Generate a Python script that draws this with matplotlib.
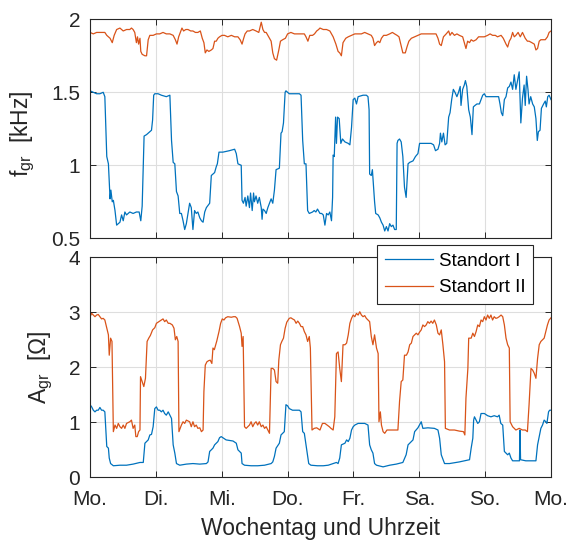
import matplotlib
matplotlib.use('Agg')
import matplotlib.pyplot as plt

plt.rcParams['font.family'] = ['Liberation Sans', 'DejaVu Sans']
plt.rcParams['mathtext.fontset'] = 'custom'
plt.rcParams['mathtext.rm'] = 'Liberation Sans'
plt.rcParams['mathtext.it'] = 'Liberation Sans:italic'

# ---------------- data (time in hours since Monday 0:00) ----------------
day_labels = ['Mo.', 'Di.', 'Mi.', 'Do.', 'Fr.', 'Sa.', 'So.', 'Mo.']
series_names = ['Standort I', 'Standort II']

f1_t = [0.0, 1.2, 2.4, 3.6, 4.8, 5.4, 6.1, 6.7, 7.3, 7.6, 8.1, 8.5, 9.1, 9.7, 10.9, 11.5, 12.1, 12.7,
        13.3, 14.5, 15.7, 16.9, 17.9, 18.5, 19.0, 19.7, 20.6, 21.8, 22.4, 22.8, 23.2, 23.6, 24.8, 26.0,
        27.8, 29.1, 29.7, 30.3, 30.9, 31.5, 32.1, 32.7, 33.3, 33.9, 34.5, 35.1, 35.7, 36.3, 36.9, 37.5,
        38.1, 38.7, 39.3, 40.0, 40.6, 41.2, 41.8, 42.4, 43.6, 44.2, 44.8, 45.4, 46.0, 46.4, 47.0, 48.4,
        50.8, 52.7, 53.3, 53.9, 55.1, 55.4, 55.9, 56.5, 56.9, 57.5, 58.1, 58.5, 59.1, 59.6, 59.9, 60.5,
        61.1, 61.7, 62.4, 62.7, 63.0, 63.6, 64.2, 64.8, 65.4, 66.0, 66.6, 67.2, 67.8, 69.0, 69.6, 70.0,
        70.5, 71.1, 71.4, 72.6, 74.5, 76.3, 76.9, 77.5, 78.1, 78.7, 79.3, 79.9, 81.1, 81.7, 82.3, 82.9,
        83.8, 84.4, 85.0, 85.6, 86.2, 86.8, 87.4, 88.0, 88.4, 88.6, 89.0, 89.5, 89.8, 90.2, 90.8, 91.4,
        92.0, 92.9, 94.1, 94.7, 95.3, 95.9, 96.5, 97.1, 97.7, 99.5, 100.7, 101.3, 101.7, 101.9, 102.5,
        102.9, 103.4, 103.7, 104.1, 105.0, 105.6, 106.2, 106.8, 107.4, 108.0, 108.6, 109.2, 109.8,
        110.4, 111.0, 111.6, 111.9, 112.2, 112.8, 113.4, 114.0, 114.6, 115.2, 115.9, 116.5, 117.7,
        118.6, 119.5, 120.1, 121.3, 122.5, 124.3, 125.2, 125.9, 126.8, 127.4, 127.7, 128.2, 128.8,
        129.4, 130.0, 130.7, 131.2, 131.8, 132.4, 133.0, 133.7, 134.3, 134.9, 135.2, 135.8, 136.4,
        136.8, 137.3, 138.0, 138.6, 139.2, 139.7, 140.3, 141.0, 141.9, 142.5, 143.1, 143.7, 144.3,
        145.5, 147.9, 148.9, 149.4, 149.9, 150.4, 151.0, 151.6, 152.2, 152.8, 153.4, 154.0, 154.6,
        155.2, 155.8, 156.4, 157.0, 157.6, 158.2, 158.6, 159.1, 159.6, 160.0, 160.6, 161.3, 161.9,
        162.5, 163.0, 163.4, 164.0, 164.5, 165.3, 165.9, 166.3, 166.8, 167.3, 168.0]
f1_v = [1.51, 1.50, 1.49, 1.49, 1.50, 1.47, 1.06, 1.01, 0.77, 0.83, 0.75, 0.76, 0.69, 0.59, 0.61, 0.66, 0.62, 0.68,
        0.66, 0.68, 0.67, 0.68, 0.68, 0.62, 0.72, 1.20, 1.21, 1.23, 1.24, 1.31, 1.48, 1.49, 1.49, 1.48,
        1.47, 1.48, 1.17, 1.02, 1.01, 0.82, 0.79, 0.67, 0.67, 0.62, 0.56, 0.60, 0.67, 0.74, 0.71, 0.56,
        0.69, 0.67, 0.68, 0.64, 0.62, 0.61, 0.68, 0.71, 0.74, 0.93, 0.94, 0.95, 0.99, 1.01, 1.09, 1.09,
        1.10, 1.11, 1.08, 1.01, 1.00, 0.76, 0.74, 0.78, 0.72, 0.79, 0.71, 0.81, 0.69, 0.81, 0.75, 0.79,
        0.74, 0.78, 0.71, 0.63, 0.70, 0.69, 0.67, 0.71, 0.74, 0.77, 0.74, 0.83, 0.97, 0.98, 1.22, 1.23,
        1.29, 1.50, 1.51, 1.49, 1.49, 1.49, 1.48, 1.17, 1.01, 1.01, 0.69, 0.67, 0.68, 0.69, 0.68, 0.70,
        0.67, 0.67, 0.66, 0.59, 0.67, 0.66, 0.68, 0.62, 0.78, 1.07, 1.06, 1.33, 1.15, 1.33, 1.32, 1.15,
        1.18, 1.16, 1.15, 1.14, 1.26, 1.45, 1.46, 1.42, 1.47, 1.48, 1.48, 1.47, 1.38, 0.94, 0.93,
        0.97, 0.83, 0.75, 0.67, 0.66, 0.64, 0.61, 0.59, 0.55, 0.58, 0.55, 0.60, 0.58,
        0.59, 0.56, 0.56, 1.15, 1.17, 1.18, 1.16, 1.06, 0.85, 0.78, 1.01, 1.02, 1.03,
        1.06, 1.08, 1.15, 1.15, 1.15, 1.15, 1.14, 1.10, 1.11, 1.15, 1.22, 1.16, 1.22,
        1.14, 1.15, 1.33, 1.36, 1.45, 1.52, 1.50, 1.47, 1.50, 1.54, 1.41, 1.52, 1.55,
        1.58, 1.54, 1.38, 1.33, 1.21, 1.40, 1.41, 1.42, 1.42, 1.45, 1.48, 1.49, 1.47,
        1.47, 1.47, 1.47, 1.42, 1.36, 1.34, 1.45, 1.47, 1.53, 1.54, 1.57, 1.52, 1.62,
        1.52, 1.58, 1.64, 1.29, 1.46, 1.55, 1.41, 1.61, 1.52, 1.42, 1.47, 1.42, 1.40,
        1.32, 1.17, 1.23, 1.24, 1.39, 1.42, 1.44, 1.40, 1.47, 1.48, 1.45]

f2_t = [0.0, 1.2, 2.4, 3.6, 5.4, 6.1, 7.3, 8.1, 8.8, 9.7, 10.9, 12.1, 13.3, 14.5, 15.1, 15.7, 16.3, 16.9,
        17.3, 17.7, 18.2, 18.5, 19.0, 20.0, 20.6, 21.2, 21.8, 23.0, 24.2, 25.4, 26.6, 27.8, 29.1, 30.3,
        31.1, 31.7, 32.3, 33.1, 33.5, 34.1, 34.9, 35.7, 36.7, 37.5, 38.4, 39.3, 40.2, 40.9, 41.5, 42.0,
        42.6, 43.3, 44.2, 44.8, 45.4, 46.0, 46.6, 47.2, 48.1, 49.0, 50.2, 51.5, 52.7, 53.9, 54.7, 55.4,
        56.0, 56.5, 57.3, 58.1, 59.3, 60.5, 61.5, 62.4, 63.0, 63.6, 64.2, 65.1, 66.0, 66.6, 67.2, 68.0,
        68.8, 69.4, 70.2, 71.2, 72.0, 73.2, 74.5, 75.7, 76.9, 78.1, 78.7, 79.4, 80.1, 81.1, 81.8, 82.6,
        83.3, 83.8, 85.0, 86.2, 87.4, 88.6, 89.6, 90.4, 91.0, 91.6, 92.2, 93.2, 94.1, 95.3, 96.5, 97.7,
        98.9, 100.1, 101.3, 102.5, 103.1, 103.7, 104.4, 105.0, 105.6, 106.2, 107.0, 108.0, 109.2,
        110.2, 111.0, 111.9, 112.6, 113.1, 114.0, 114.9, 115.5, 116.2, 117.1, 118.3, 119.5, 120.7,
        122.5, 124.3, 126.1, 126.8, 127.4, 128.0, 128.8, 129.8, 130.7, 131.2, 131.9, 132.8, 133.7,
        134.6, 135.8, 136.4, 137.0, 137.6, 138.3, 138.9, 139.7, 140.7, 141.6, 142.5, 143.7, 144.9,
        145.8, 146.7, 147.7, 148.5, 149.8, 150.6, 151.6, 152.2, 152.8, 153.4, 154.0, 154.6, 155.2,
        156.0, 156.8, 157.6, 158.6, 159.4, 160.0, 161.0, 161.9, 162.5, 163.1, 163.7, 164.3, 164.9,
        165.9, 166.7, 167.3, 168.0]
f2_v = [1.91, 1.90, 1.91, 1.91, 1.91, 1.89, 1.87, 1.84, 1.89, 1.93, 1.94, 1.92, 1.93, 1.93, 1.94, 1.93, 1.91, 1.84,
        1.88, 1.83, 1.87, 1.78, 1.76, 1.75, 1.75, 1.86, 1.89, 1.89, 1.90, 1.90, 1.91, 1.90, 1.90, 1.89,
        1.86, 1.83, 1.88, 1.92, 1.94, 1.92, 1.93, 1.93, 1.92, 1.92, 1.91, 1.91, 1.92, 1.87, 1.84, 1.77,
        1.79, 1.78, 1.79, 1.80, 1.85, 1.85, 1.87, 1.88, 1.89, 1.89, 1.88, 1.89, 1.88, 1.88, 1.86, 1.83,
        1.87, 1.90, 1.92, 1.92, 1.93, 1.92, 1.91, 1.98, 1.93, 1.91, 1.91, 1.88, 1.85, 1.77, 1.73, 1.72,
        1.79, 1.85, 1.86, 1.87, 1.90, 1.91, 1.90, 1.90, 1.90, 1.90, 1.88, 1.85, 1.89, 1.89, 1.90, 1.92,
        1.93, 1.94, 1.93, 1.93, 1.92, 1.88, 1.83, 1.78, 1.77, 1.75, 1.84, 1.87, 1.88, 1.89, 1.90, 1.90,
        1.90, 1.91, 1.90, 1.89, 1.87, 1.82, 1.84, 1.85, 1.84, 1.87, 1.89, 1.89, 1.90,
        1.91, 1.90, 1.89, 1.88, 1.84, 1.77, 1.77, 1.81, 1.85, 1.87, 1.88, 1.89, 1.90,
        1.90, 1.90, 1.90, 1.87, 1.83, 1.82, 1.88, 1.90, 1.92, 1.89, 1.91, 1.89, 1.90,
        1.89, 1.88, 1.84, 1.80, 1.85, 1.84, 1.86, 1.85, 1.86, 1.88, 1.88, 1.88, 1.89,
        1.90, 1.89, 1.89, 1.88, 1.89, 1.87, 1.83, 1.81, 1.85, 1.87, 1.91, 1.88, 1.89,
        1.91, 1.88, 1.91, 1.87, 1.85, 1.85, 1.84, 1.83, 1.79, 1.80, 1.85, 1.86, 1.86,
        1.86, 1.88, 1.91, 1.92]

a1_t = [0.0, 0.6, 1.2, 1.8, 2.4, 3.0, 3.6, 4.2, 4.8, 5.4, 6.1, 6.7, 7.0, 7.5, 8.5, 10.9, 13.3, 15.7, 18.2,
        19.4, 20.0, 20.6, 21.2, 21.8, 22.4, 23.0, 23.6, 24.2, 24.8, 25.4, 26.0, 26.6, 27.2, 27.8, 28.5,
        29.1, 29.7, 30.3, 30.9, 31.5, 32.7, 35.1, 37.5, 40.0, 42.4, 43.0, 43.6, 44.2, 44.8, 45.4, 46.0,
        46.6, 47.2, 47.8, 48.4, 49.6, 52.1, 53.3, 53.9, 55.1, 55.4, 56.3, 58.7, 61.1, 63.6, 66.0, 66.6,
        67.2, 67.8, 69.0, 69.6, 70.8, 71.4, 72.0, 72.6, 73.8, 75.1, 76.3, 76.9, 77.5, 78.1, 78.7, 79.3,
        79.7, 80.5, 82.9, 85.0, 86.8, 88.6, 89.8, 90.4, 91.0, 91.6, 92.9, 93.5, 94.1, 94.7, 95.3, 95.9,
        96.5, 97.7, 100.1, 101.3, 101.9, 102.5, 103.1, 103.7, 104.4, 106.8, 109.2, 111.6, 114.0, 115.2,
        115.9, 117.1, 117.7, 118.3, 119.5, 120.7, 121.3, 123.1, 125.5, 126.8, 127.4, 128.0, 129.2,
        131.0, 134.6, 138.3, 138.9, 139.5, 139.8, 140.1, 140.7, 141.3, 141.9, 142.5, 143.7, 144.9,
        146.1, 147.3, 148.5, 149.1, 149.7, 150.4, 151.0, 152.2, 152.8, 153.4, 154.0, 156.2, 156.5,
        156.7, 156.9, 158.8, 162.5, 163.1, 163.7, 164.3, 164.9, 165.5, 166.1, 166.5, 167.1, 167.5, 168.0]
a1_v = [1.32, 1.28, 1.22, 1.19, 1.22, 1.22, 1.27, 1.22, 1.22, 1.19, 0.56, 0.53, 0.35, 0.25, 0.21, 0.22, 0.22, 0.24, 0.27,
        0.27, 0.62, 0.65, 0.68, 0.77, 0.78, 0.92, 1.25, 1.28, 1.22, 1.22, 1.19, 1.22, 1.16, 1.13, 1.19,
        1.13, 1.07, 0.59, 0.44, 0.25, 0.22, 0.24, 0.25, 0.24, 0.25, 0.28, 0.47, 0.50, 0.53, 0.59, 0.62,
        0.65, 0.72, 0.74, 0.72, 0.68, 0.66, 0.62, 0.50, 0.44, 0.25, 0.22, 0.21, 0.21, 0.22, 0.25, 0.28,
        0.38, 0.53, 0.62, 0.77, 0.83, 1.32, 1.30, 1.25, 1.22, 1.22, 1.22, 1.19, 0.83, 0.80, 0.59, 0.38,
        0.25, 0.22, 0.21, 0.21, 0.22, 0.25, 0.27, 0.25, 0.35, 0.59, 0.62, 0.68, 0.65, 0.71, 0.86, 0.92,
        0.95, 0.98, 0.98, 0.95, 0.59, 0.50, 0.44, 0.25, 0.22, 0.19, 0.22, 0.24, 0.27, 0.41,
        0.59, 0.65, 0.68, 0.83, 0.90, 1.01, 0.89, 0.90, 0.89, 0.86, 0.71, 0.41, 0.25,
        0.25, 0.28, 0.32, 0.53, 0.71, 1.04, 1.10, 1.04, 0.98, 1.01, 1.16, 1.16, 1.12,
        1.10, 1.12, 1.10, 1.13, 0.98, 0.95, 0.47, 0.41, 0.44, 0.35, 0.30, 0.30, 0.30,
        0.86, 0.32, 0.30, 0.30, 0.59, 0.74, 0.89, 0.95, 1.04, 1.01, 0.98, 1.19, 1.22, 1.22]

a2_t = [0.0, 0.6, 1.2, 1.8, 2.4, 3.0, 3.6, 4.2, 4.8, 5.4, 6.1, 6.7, 7.0, 7.5, 8.0, 8.5, 9.1, 9.7, 10.3,
        10.9, 11.5, 12.1, 12.7, 13.3, 14.5, 15.1, 15.7, 16.3, 16.7, 17.2, 17.7, 18.2, 18.4, 19.0, 19.6,
        20.2, 20.8, 21.4, 22.0, 22.8, 23.6, 24.2, 25.4, 26.6, 27.2, 27.8, 28.5, 29.1, 30.0, 30.6, 31.1,
        31.6, 32.1, 32.4, 33.3, 33.9, 34.5, 35.1, 36.3, 36.9, 37.5, 38.1, 38.7, 39.3, 40.0, 40.6, 41.2,
        41.5, 42.0, 42.6, 43.2, 43.8, 44.4, 44.8, 45.3, 45.8, 46.2, 47.0, 47.6, 48.2, 48.8, 49.4, 50.2,
        51.5, 52.3, 53.0, 53.6, 54.5, 55.1, 55.4, 55.8, 56.3, 56.9, 57.5, 58.1, 58.7, 59.3, 59.9, 60.5,
        61.1, 61.7, 62.4, 63.0, 63.6, 64.2, 64.8, 65.4, 66.0, 66.6, 67.2, 67.8, 68.4, 68.8, 69.4, 69.9,
        70.5, 71.1, 71.7, 72.6, 73.2, 73.8, 74.5, 75.1, 75.7, 76.3, 76.9, 77.5, 78.1, 78.7, 79.3, 79.9,
        80.3, 80.9, 81.7, 82.6, 83.8, 84.7, 85.6, 86.4, 87.2, 87.8, 88.6, 89.2, 89.8, 90.4, 91.0, 91.6,
        92.2, 92.9, 93.5, 94.1, 94.7, 95.3, 95.9, 96.5, 97.1, 97.7, 98.3, 98.9, 99.5, 100.1, 100.7,
        101.3, 101.9, 102.5, 103.1, 103.7, 104.4, 105.0, 105.3, 105.8, 106.2, 106.8, 107.4, 108.2,
        109.8, 111.4, 112.2, 112.8, 113.4, 114.0, 114.6, 115.3, 115.9, 116.5, 117.1, 117.7, 118.3,
        118.9, 119.5, 120.1, 120.7, 121.3, 121.9, 122.5, 123.1, 123.7, 124.3, 124.9, 125.5, 126.2,
        126.8, 127.4, 128.0, 128.6, 129.2, 129.5, 131.0, 132.8, 134.6, 136.1, 136.6, 137.0, 137.7,
        138.0, 138.9, 139.5, 140.1, 140.7, 141.3, 141.9, 142.5, 143.1, 143.7, 144.3, 144.9, 145.5,
        146.1, 146.7, 147.3, 147.9, 148.5, 149.1, 149.8, 150.4, 151.0, 151.6, 152.2, 152.8, 153.1,
        154.0, 154.6, 155.2, 156.4, 157.6, 158.6, 159.4, 160.0, 160.7, 161.3, 161.9, 162.5, 163.1,
        163.7, 164.3, 164.9, 165.5, 166.1, 166.7, 167.3, 168.0]
a2_v = [2.92, 2.98, 2.95, 2.92, 2.95, 2.96, 2.92, 2.88, 2.89, 2.86, 2.71, 2.59, 2.22, 2.53, 2.47, 0.83, 0.95, 0.89, 0.98,
        0.92, 0.89, 0.95, 0.89, 0.98, 1.01, 1.04, 0.89, 0.95, 0.74, 0.74, 0.83, 0.86, 1.83, 1.74, 1.65,
        1.80, 2.47, 2.53, 2.58, 2.68, 2.72, 2.80, 2.84, 2.88, 2.83, 2.86, 2.80, 2.80, 2.77, 2.71, 2.50,
        2.56, 2.47, 0.83, 0.95, 1.01, 0.98, 1.04, 1.01, 0.92, 1.01, 0.92, 0.95, 0.89, 0.90, 0.83, 0.86,
        1.56, 2.04, 2.10, 2.12, 2.13, 2.07, 2.35, 2.32, 2.41, 2.48, 2.65, 2.80, 2.88, 2.86, 2.90, 2.92,
        2.91, 2.92, 2.92, 2.89, 2.74, 2.62, 2.38, 2.56, 0.92, 0.89, 0.92, 0.95, 1.01, 0.92, 0.98, 1.01,
        0.95, 1.01, 0.92, 0.95, 0.89, 0.92, 0.86, 0.80, 1.98, 1.98, 1.95, 1.74, 1.71, 2.13, 2.41, 2.47,
        2.53, 2.71, 2.82, 2.89, 2.90, 2.88, 2.86, 2.80, 2.84, 2.80, 2.74, 2.74, 2.65, 2.59, 2.47, 2.56,
        2.35, 0.86, 0.89, 0.90, 0.86, 0.98, 0.98, 0.95, 0.92, 0.89, 0.86, 1.10, 2.25, 2.28, 1.98, 1.74,
        2.41, 2.41, 2.44, 2.59, 2.80, 2.89, 2.95, 2.92, 2.98, 2.95, 3.01, 2.95, 2.92, 2.94, 2.89,
        2.86, 2.83, 2.56, 2.41, 2.59, 2.35, 2.25, 1.01, 1.19, 0.95, 0.83, 0.80, 0.86,
        0.86, 0.86, 0.86, 1.38, 1.74, 1.77, 2.22, 2.22, 2.28, 2.41, 2.44, 2.56, 2.59,
        2.62, 2.59, 2.64, 2.68, 2.77, 2.74, 2.77, 2.83, 2.80, 2.84, 2.80, 2.86, 2.77,
        2.62, 2.59, 2.68, 2.41, 2.10, 0.89, 0.86, 0.86, 0.84, 0.83, 0.77, 1.44, 1.98,
        2.53, 2.53, 2.62, 2.56, 2.65, 2.77, 2.74, 2.86, 2.83, 2.92, 2.86, 2.95, 2.89,
        2.95, 2.86, 2.92, 2.89, 2.90, 2.92, 2.95, 2.92, 2.77, 2.53, 2.41, 2.35, 1.01,
        0.92, 0.89, 0.86, 0.89, 0.86, 0.86, 0.83, 1.32, 1.98, 1.95, 1.89, 1.80, 2.16,
        2.41, 2.47, 2.50, 2.53, 2.65, 2.77, 2.86, 2.90]

# ---------------- figure ----------------
c_blue = '#0072BD'
c_orange = '#D95319'
edge = '#262626'

fig = plt.figure(figsize=(5.68, 5.45), dpi=100)
ax1 = fig.add_axes([0.1585, 0.5628, 0.8116, 0.4018])
ax2 = fig.add_axes([0.1585, 0.1242, 0.8116, 0.4037])

ax1.plot(f1_t, f1_v, color=c_blue, lw=0.9)
ax1.plot(f2_t, f2_v, color=c_orange, lw=0.9)
l1, = ax2.plot(a1_t, a1_v, color=c_blue, lw=0.9, label=series_names[0])
l2, = ax2.plot(a2_t, a2_v, color=c_orange, lw=0.9, label=series_names[1])

xt = [24 * i for i in range(len(day_labels))]
for ax in (ax1, ax2):
    ax.set_xlim(0, 168)
    ax.set_xticks(xt)
    ax.grid(True, color='#dedede', lw=0.8)
    ax.set_axisbelow(True)
    ax.tick_params(direction='in', length=4, width=0.7, top=True, right=True,
                   labelsize=15, colors=edge, labelcolor=edge)
    ax.tick_params(axis='y', pad=7)
    ax.tick_params(axis='x', pad=9)
    for s in ax.spines.values():
        s.set_color(edge)
        s.set_linewidth(0.8)

ax1.set_ylim(0.5, 2)
ax1.set_yticks([0.5, 1, 1.5, 2])
ax1.set_yticklabels(['0.5', '1', '1.5', '2'])
ax1.tick_params(labelbottom=False)

ax2.set_ylim(0, 4)
ax2.set_yticks([0, 1, 2, 3, 4])
ax2.set_xticklabels(day_labels)

ax1.set_ylabel(r'f$_{\mathrm{gr}}$  [kHz]', fontsize=16.5, color=edge, va='center')
ax1.yaxis.set_label_coords(-0.146, 0.48)
ax2.set_ylabel(r'A$_{\mathrm{gr}}$  [$\Omega$]', fontsize=16.5, color=edge, va='center')
ax2.yaxis.set_label_coords(-0.106, 0.5)
ax2.set_xlabel('Wochentag und Uhrzeit', fontsize=16.5, color=edge, labelpad=6)

leg = ax2.legend(handles=[l1, l2], loc='upper left',
                 bbox_to_anchor=(377.3 / 568, 1 - 245 / 545), bbox_transform=fig.transFigure,
                 fontsize=13.5, frameon=True, fancybox=False, framealpha=1, edgecolor=edge,
                 borderaxespad=0, borderpad=0.42, labelspacing=0.5, handlelength=2.55,
                 handletextpad=0.3)
leg.get_frame().set_linewidth(0.8)
for t in leg.get_texts():
    t.set_color('black')

fig.savefig('out.png', dpi=100)
